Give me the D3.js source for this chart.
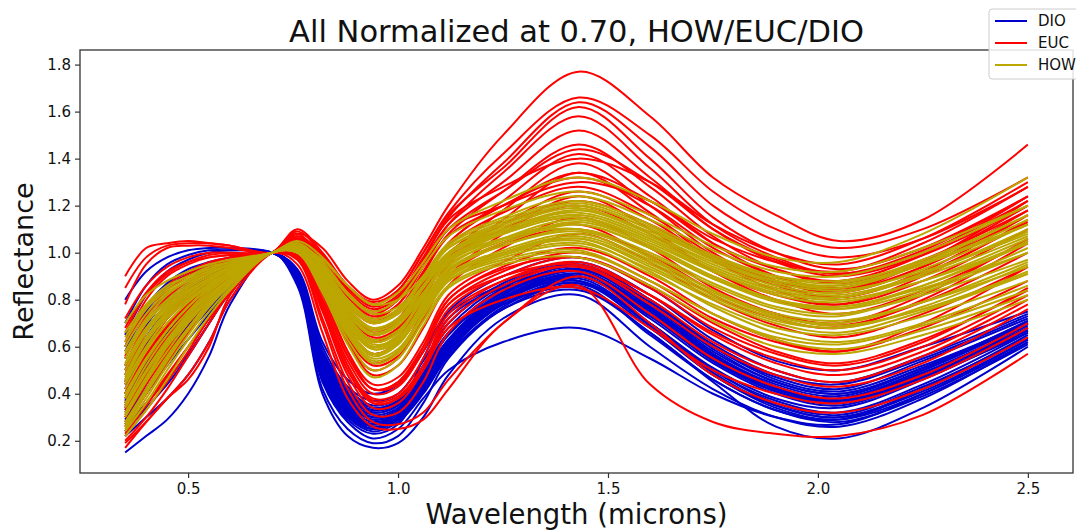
<!DOCTYPE html>
<html>
<head>
<meta charset="utf-8">
<script src="https://cdn.jsdelivr.net/npm/d3@7"></script>
<style>
  body { margin: 0; background: #fff; }
  text { font-family: "DejaVu Sans", sans-serif; fill: #111; }
</style>
</head>
<body>
<div id="chart"></div>
<script>
const species = ["DIO", "EUC", "HOW"];
const colors = ["#0000cd", "#ff0000", "#bca600"];

const wavelengths = [0.35, 0.40, 0.45, 0.50, 0.55, 0.60, 0.70, 0.76, 0.82, 0.88, 0.94, 1.00, 1.06, 1.12, 1.25, 1.43, 1.60, 1.75, 1.90, 2.05, 2.25, 2.50];

const dio = [
  [0.15,0.22,0.29,0.40,0.56,0.78,1.00,0.86,0.40,0.22,0.17,0.19,0.30,0.48,0.72,0.82,0.60,0.42,0.30,0.26,0.38,0.62],
  [0.22,0.30,0.38,0.48,0.62,0.80,1.00,0.87,0.42,0.25,0.19,0.22,0.36,0.55,0.76,0.86,0.65,0.46,0.33,0.29,0.42,0.65],
  [0.28,0.42,0.55,0.66,0.76,0.86,1.00,0.90,0.50,0.32,0.26,0.30,0.42,0.58,0.78,0.88,0.70,0.50,0.37,0.32,0.44,0.66],
  [0.35,0.52,0.65,0.75,0.83,0.90,1.00,0.91,0.53,0.36,0.29,0.33,0.45,0.60,0.80,0.90,0.72,0.53,0.40,0.35,0.47,0.68],
  [0.45,0.62,0.74,0.82,0.88,0.93,1.00,0.92,0.57,0.40,0.33,0.36,0.48,0.63,0.82,0.92,0.76,0.56,0.43,0.38,0.50,0.70],
  [0.55,0.72,0.82,0.88,0.92,0.95,1.00,0.92,0.58,0.42,0.35,0.38,0.50,0.66,0.84,0.94,0.79,0.60,0.47,0.42,0.54,0.72],
  [0.80,0.92,0.98,1.01,1.02,1.02,1.00,0.91,0.55,0.38,0.31,0.34,0.46,0.62,0.81,0.90,0.73,0.54,0.41,0.36,0.48,0.68],
  [0.65,0.82,0.92,0.97,1.00,1.01,1.00,0.92,0.60,0.43,0.37,0.40,0.54,0.70,0.87,0.96,0.82,0.63,0.50,0.45,0.56,0.74],
  [0.40,0.56,0.68,0.78,0.85,0.91,1.00,0.90,0.51,0.34,0.27,0.31,0.43,0.59,0.79,0.89,0.70,0.50,0.36,0.31,0.43,0.64],
  [0.30,0.46,0.60,0.71,0.80,0.88,1.00,0.89,0.47,0.30,0.24,0.28,0.40,0.56,0.77,0.87,0.68,0.48,0.34,0.29,0.40,0.62],
  [0.50,0.67,0.78,0.85,0.90,0.94,1.00,0.93,0.62,0.46,0.40,0.44,0.58,0.75,0.90,0.98,0.85,0.67,0.54,0.50,0.60,0.75],
  [0.26,0.36,0.46,0.57,0.70,0.83,1.00,0.88,0.45,0.28,0.21,0.25,0.38,0.50,0.62,0.68,0.55,0.40,0.30,0.27,0.40,0.63],
  [0.60,0.77,0.87,0.93,0.96,0.98,1.00,0.91,0.54,0.37,0.30,0.33,0.44,0.60,0.80,0.90,0.74,0.55,0.41,0.37,0.49,0.69],
  [0.33,0.50,0.63,0.73,0.82,0.89,1.00,0.90,0.52,0.35,0.28,0.32,0.46,0.63,0.83,0.93,0.78,0.58,0.45,0.40,0.51,0.71],
  [0.42,0.60,0.72,0.81,0.87,0.92,1.00,0.91,0.55,0.39,0.32,0.35,0.47,0.62,0.80,0.88,0.69,0.48,0.35,0.30,0.42,0.64],
  [0.24,0.34,0.44,0.56,0.70,0.84,1.00,0.88,0.46,0.29,0.23,0.27,0.44,0.62,0.78,0.85,0.66,0.45,0.26,0.21,0.34,0.60],
  [0.70,0.86,0.95,0.99,1.01,1.01,1.00,0.92,0.57,0.41,0.34,0.37,0.49,0.65,0.83,0.93,0.77,0.57,0.44,0.39,0.51,0.71],
  [0.48,0.64,0.76,0.84,0.89,0.93,1.00,0.92,0.56,0.40,0.33,0.36,0.52,0.68,0.86,0.95,0.80,0.61,0.48,0.44,0.55,0.73],
  [0.38,0.54,0.66,0.76,0.84,0.90,1.00,0.90,0.49,0.33,0.27,0.33,0.55,0.74,0.86,0.92,0.76,0.56,0.42,0.38,0.50,0.70],
  [0.36,0.53,0.66,0.76,0.84,0.90,1.00,0.89,0.48,0.31,0.25,0.30,0.50,0.72,0.85,0.88,0.70,0.51,0.38,0.34,0.46,0.67],
  [0.32,0.48,0.61,0.72,0.81,0.88,1.00,0.90,0.50,0.33,0.26,0.29,0.41,0.58,0.79,0.90,0.74,0.54,0.41,0.36,0.47,0.66],
  [0.44,0.61,0.73,0.82,0.88,0.93,1.00,0.91,0.54,0.37,0.30,0.33,0.45,0.61,0.82,0.93,0.77,0.57,0.43,0.38,0.49,0.68],
  [0.27,0.40,0.52,0.63,0.74,0.85,1.00,0.89,0.48,0.31,0.25,0.29,0.41,0.57,0.76,0.84,0.66,0.46,0.33,0.28,0.39,0.61],
  [0.52,0.69,0.80,0.87,0.91,0.94,1.00,0.92,0.58,0.41,0.34,0.37,0.50,0.66,0.85,0.95,0.80,0.60,0.46,0.41,0.52,0.70],
  [0.37,0.55,0.68,0.78,0.85,0.91,1.00,0.90,0.53,0.36,0.29,0.32,0.44,0.60,0.81,0.91,0.75,0.55,0.42,0.37,0.48,0.67],
  [0.29,0.44,0.58,0.69,0.79,0.87,1.00,0.89,0.50,0.32,0.25,0.29,0.42,0.58,0.78,0.87,0.70,0.49,0.35,0.30,0.41,0.63],
  [0.58,0.75,0.85,0.91,0.94,0.96,1.00,0.91,0.56,0.39,0.32,0.35,0.47,0.63,0.83,0.93,0.78,0.59,0.45,0.40,0.51,0.70],
  [0.34,0.51,0.64,0.75,0.83,0.90,1.00,0.90,0.52,0.34,0.27,0.30,0.42,0.59,0.80,0.91,0.76,0.56,0.42,0.37,0.48,0.67]
];

const euc = [
  [0.62,0.80,0.90,0.95,0.98,0.99,1.00,1.08,1.02,0.88,0.80,0.86,1.02,1.20,1.50,1.77,1.58,1.32,1.16,1.05,1.14,1.46],
  [0.90,1.02,1.04,1.05,1.04,1.03,1.00,1.06,0.98,0.85,0.77,0.82,0.98,1.15,1.38,1.64,1.45,1.20,1.05,0.98,1.06,1.28],
  [0.55,0.72,0.84,0.91,0.95,0.98,1.00,1.10,1.00,0.86,0.79,0.84,1.00,1.16,1.36,1.62,1.40,1.15,1.00,0.93,1.02,1.24],
  [0.78,0.95,1.02,1.03,1.03,1.02,1.00,1.07,0.97,0.83,0.75,0.80,0.96,1.12,1.34,1.58,1.36,1.12,0.98,0.91,1.00,1.22],
  [0.48,0.66,0.78,0.86,0.92,0.96,1.00,1.09,0.99,0.84,0.76,0.81,0.96,1.12,1.30,1.52,1.32,1.10,0.96,0.90,0.99,1.20],
  [0.40,0.58,0.72,0.82,0.89,0.94,1.00,1.08,0.96,0.80,0.71,0.76,0.92,1.08,1.26,1.46,1.28,1.07,0.93,0.87,0.97,1.18],
  [0.35,0.52,0.67,0.78,0.86,0.92,1.00,1.06,0.93,0.76,0.67,0.72,0.88,1.04,1.22,1.42,1.24,1.04,0.90,0.84,0.94,1.16],
  [0.30,0.45,0.60,0.72,0.82,0.90,1.00,1.05,0.90,0.72,0.62,0.67,0.83,0.99,1.18,1.38,1.20,1.00,0.87,0.81,0.91,1.13],
  [0.26,0.40,0.54,0.67,0.79,0.88,1.00,1.04,0.88,0.68,0.57,0.62,0.78,0.95,1.14,1.34,1.17,0.97,0.84,0.78,0.88,1.10],
  [0.50,0.67,0.78,0.85,0.90,0.94,1.00,1.02,0.86,0.64,0.52,0.56,0.72,0.90,1.08,1.24,1.10,0.92,0.80,0.74,0.84,1.05],
  [0.22,0.33,0.45,0.58,0.72,0.84,1.00,1.03,0.85,0.62,0.48,0.52,0.68,0.86,1.02,1.15,1.02,0.85,0.74,0.69,0.79,1.00],
  [0.42,0.57,0.69,0.78,0.85,0.91,1.00,1.01,0.82,0.58,0.44,0.47,0.62,0.82,0.96,1.08,0.96,0.80,0.69,0.64,0.74,0.94],
  [0.19,0.28,0.38,0.48,0.62,0.80,1.00,1.02,0.83,0.58,0.42,0.45,0.60,0.80,0.94,1.02,0.90,0.74,0.63,0.58,0.68,0.88],
  [0.17,0.28,0.38,0.46,0.60,0.82,1.00,1.00,0.78,0.52,0.38,0.40,0.55,0.76,0.90,0.98,0.86,0.70,0.58,0.53,0.63,0.84],
  [0.33,0.48,0.62,0.73,0.82,0.89,1.00,1.00,0.78,0.52,0.37,0.39,0.52,0.72,0.88,0.96,0.82,0.65,0.53,0.48,0.58,0.80],
  [0.28,0.42,0.56,0.68,0.79,0.88,1.00,0.98,0.75,0.48,0.34,0.36,0.50,0.70,0.86,0.94,0.78,0.60,0.48,0.43,0.53,0.76],
  [0.38,0.54,0.67,0.77,0.85,0.91,1.00,0.98,0.72,0.45,0.31,0.32,0.45,0.66,0.84,0.92,0.74,0.55,0.43,0.38,0.48,0.70],
  [0.24,0.36,0.48,0.60,0.72,0.84,1.00,0.95,0.66,0.38,0.26,0.25,0.29,0.42,0.70,0.86,0.44,0.28,0.23,0.22,0.31,0.57],
  [0.60,0.76,0.86,0.92,0.96,0.98,1.00,1.04,0.92,0.74,0.64,0.68,0.84,1.00,1.12,1.22,1.12,0.98,0.88,0.84,0.96,1.22],
  [0.72,0.86,0.94,0.98,1.00,1.00,1.00,1.05,0.95,0.80,0.72,0.78,0.94,1.10,1.20,1.30,1.22,1.06,0.96,0.92,1.04,1.28],
  [0.45,0.62,0.74,0.82,0.88,0.93,1.00,1.03,0.89,0.70,0.60,0.64,0.80,0.97,1.10,1.20,1.08,0.92,0.82,0.78,0.90,1.14],
  [0.34,0.50,0.64,0.75,0.84,0.91,1.00,1.01,0.84,0.62,0.50,0.55,0.72,0.90,1.04,1.12,0.98,0.82,0.72,0.68,0.80,1.04],
  [0.20,0.30,0.42,0.56,0.70,0.83,1.00,0.99,0.80,0.56,0.42,0.44,0.58,0.78,0.92,1.00,0.88,0.72,0.62,0.58,0.70,0.94],
  [0.52,0.70,0.81,0.88,0.93,0.96,1.00,1.00,0.76,0.50,0.36,0.38,0.50,0.68,0.80,0.85,0.68,0.50,0.40,0.36,0.46,0.68],
  [0.66,0.82,0.91,0.96,0.99,1.00,1.00,1.06,0.96,0.82,0.74,0.80,0.97,1.14,1.28,1.40,1.30,1.12,1.00,0.95,1.06,1.30],
  [0.30,0.44,0.57,0.68,0.78,0.87,1.00,0.97,0.70,0.42,0.28,0.27,0.32,0.46,0.70,0.90,0.70,0.48,0.36,0.32,0.42,0.64],
  [0.85,0.98,1.03,1.04,1.04,1.03,1.00,1.07,0.99,0.86,0.78,0.84,1.00,1.17,1.42,1.66,1.50,1.26,1.10,1.02,1.10,1.32],
  [0.40,0.56,0.68,0.78,0.86,0.92,1.00,1.04,0.91,0.73,0.63,0.68,0.86,1.04,1.20,1.32,1.20,1.02,0.90,0.85,0.96,1.20],
  [0.46,0.63,0.75,0.83,0.89,0.94,1.00,1.05,0.93,0.76,0.66,0.71,0.87,1.03,1.17,1.28,1.16,0.99,0.88,0.83,0.94,1.18],
  [0.36,0.52,0.65,0.76,0.84,0.91,1.00,1.02,0.86,0.65,0.53,0.58,0.75,0.92,1.04,1.10,0.99,0.84,0.74,0.70,0.82,1.06],
  [0.27,0.40,0.53,0.66,0.77,0.87,1.00,1.00,0.80,0.56,0.42,0.45,0.60,0.80,0.93,0.98,0.85,0.68,0.57,0.52,0.62,0.85],
  [0.56,0.73,0.84,0.90,0.94,0.97,1.00,1.06,0.96,0.81,0.73,0.78,0.94,1.10,1.26,1.44,1.30,1.10,0.97,0.91,1.01,1.24],
  [0.31,0.46,0.59,0.70,0.80,0.88,1.00,0.99,0.76,0.50,0.36,0.38,0.52,0.74,0.88,0.94,0.80,0.62,0.50,0.45,0.56,0.78],
  [0.68,0.83,0.92,0.96,0.98,0.99,1.00,1.05,0.94,0.78,0.70,0.75,0.91,1.07,1.20,1.34,1.22,1.04,0.93,0.88,0.99,1.24],
  [0.23,0.35,0.47,0.60,0.72,0.84,1.00,0.98,0.78,0.54,0.40,0.43,0.58,0.78,0.90,0.95,0.82,0.66,0.55,0.50,0.60,0.82],
  [0.44,0.60,0.72,0.80,0.87,0.92,1.00,1.03,0.88,0.68,0.57,0.62,0.80,0.98,1.12,1.26,1.14,0.97,0.86,0.81,0.92,1.16]
];

const how = [
  [0.70,0.82,0.88,0.92,0.95,0.97,1.00,1.03,0.97,0.86,0.78,0.80,0.90,1.02,1.12,1.20,1.10,0.98,0.90,0.88,0.96,1.12],
  [0.62,0.76,0.84,0.89,0.93,0.96,1.00,1.04,0.95,0.82,0.74,0.77,0.88,1.00,1.10,1.18,1.08,0.96,0.87,0.84,0.92,1.08],
  [0.55,0.70,0.79,0.86,0.91,0.95,1.00,1.03,0.93,0.78,0.70,0.74,0.86,0.98,1.08,1.15,1.04,0.92,0.83,0.80,0.88,1.04],
  [0.50,0.66,0.76,0.84,0.89,0.94,1.00,1.02,0.91,0.75,0.66,0.70,0.83,0.96,1.06,1.12,1.02,0.89,0.80,0.77,0.85,1.00],
  [0.45,0.60,0.72,0.80,0.87,0.92,1.00,1.02,0.90,0.73,0.63,0.67,0.80,0.93,1.03,1.10,1.00,0.87,0.77,0.74,0.82,0.97],
  [0.40,0.55,0.67,0.77,0.85,0.91,1.00,1.01,0.88,0.70,0.60,0.64,0.78,0.91,1.01,1.08,0.97,0.84,0.74,0.71,0.79,0.94],
  [0.35,0.50,0.63,0.74,0.83,0.90,1.00,1.01,0.87,0.68,0.57,0.61,0.76,0.90,1.00,1.06,0.94,0.81,0.71,0.68,0.76,0.91],
  [0.30,0.45,0.58,0.70,0.80,0.88,1.00,1.00,0.85,0.65,0.54,0.58,0.73,0.88,0.98,1.03,0.91,0.78,0.68,0.65,0.73,0.88],
  [0.25,0.38,0.52,0.65,0.77,0.86,1.00,1.00,0.84,0.63,0.50,0.55,0.71,0.86,0.96,1.00,0.88,0.74,0.64,0.61,0.69,0.84],
  [0.22,0.33,0.46,0.60,0.73,0.84,1.00,1.00,0.83,0.61,0.47,0.52,0.69,0.85,0.95,0.98,0.86,0.71,0.60,0.57,0.65,0.80],
  [0.48,0.64,0.75,0.83,0.89,0.94,1.00,1.04,0.96,0.83,0.75,0.80,0.94,1.07,1.18,1.26,1.16,1.03,0.94,0.92,1.02,1.20],
  [0.58,0.72,0.82,0.88,0.92,0.95,1.00,1.05,0.98,0.86,0.78,0.83,0.96,1.10,1.22,1.32,1.22,1.08,0.98,0.96,1.08,1.32],
  [0.38,0.54,0.67,0.77,0.85,0.91,1.00,1.03,0.93,0.78,0.70,0.75,0.89,1.03,1.14,1.22,1.12,0.99,0.90,0.87,0.97,1.16],
  [0.32,0.47,0.61,0.72,0.81,0.89,1.00,1.02,0.89,0.72,0.62,0.66,0.82,0.97,1.08,1.15,1.05,0.92,0.82,0.79,0.88,1.06],
  [0.66,0.78,0.86,0.90,0.94,0.96,1.00,1.02,0.92,0.77,0.68,0.72,0.85,0.97,1.06,1.10,0.98,0.84,0.73,0.69,0.76,0.92],
  [0.28,0.42,0.56,0.68,0.79,0.87,1.00,1.01,0.86,0.67,0.56,0.61,0.77,0.92,1.03,1.09,0.99,0.86,0.76,0.73,0.83,1.00],
  [0.52,0.67,0.77,0.84,0.89,0.93,1.00,1.02,0.90,0.72,0.61,0.64,0.77,0.90,1.00,1.05,0.92,0.77,0.66,0.62,0.70,0.86],
  [0.42,0.58,0.70,0.79,0.86,0.92,1.00,1.03,0.92,0.76,0.67,0.71,0.85,0.99,1.10,1.17,1.07,0.94,0.85,0.82,0.91,1.09],
  [0.36,0.52,0.65,0.75,0.84,0.90,1.00,1.01,0.88,0.70,0.59,0.62,0.75,0.88,0.97,1.01,0.88,0.74,0.63,0.59,0.67,0.82],
  [0.60,0.74,0.83,0.88,0.92,0.95,1.00,1.03,0.94,0.80,0.72,0.76,0.90,1.04,1.15,1.24,1.14,1.01,0.92,0.90,1.00,1.20],
  [0.46,0.62,0.73,0.81,0.88,0.93,1.00,1.02,0.91,0.74,0.65,0.69,0.82,0.95,1.05,1.13,1.03,0.90,0.80,0.76,0.84,1.02],
  [0.26,0.40,0.54,0.67,0.78,0.87,1.00,1.01,0.87,0.68,0.57,0.62,0.78,0.93,1.04,1.12,1.02,0.89,0.79,0.76,0.86,1.05],
  [0.44,0.59,0.70,0.79,0.86,0.92,1.00,1.02,0.90,0.74,0.65,0.70,0.85,1.00,1.12,1.20,1.10,0.97,0.88,0.85,0.95,1.14],
  [0.34,0.49,0.62,0.73,0.82,0.89,1.00,1.01,0.87,0.69,0.59,0.63,0.79,0.94,1.06,1.14,1.03,0.90,0.80,0.77,0.86,1.04],
  [0.57,0.71,0.80,0.87,0.91,0.95,1.00,1.03,0.93,0.79,0.71,0.75,0.88,1.02,1.13,1.21,1.11,0.98,0.89,0.86,0.95,1.12],
  [0.24,0.36,0.50,0.63,0.75,0.85,1.00,1.00,0.85,0.65,0.53,0.57,0.73,0.88,0.99,1.06,0.95,0.82,0.72,0.68,0.77,0.95],
  [0.64,0.77,0.85,0.90,0.93,0.96,1.00,1.03,0.94,0.80,0.71,0.74,0.86,0.99,1.09,1.16,1.06,0.93,0.84,0.81,0.90,1.07],
  [0.39,0.55,0.67,0.77,0.85,0.91,1.00,1.02,0.89,0.72,0.62,0.66,0.81,0.96,1.08,1.18,1.09,0.97,0.88,0.86,0.96,1.16],
  [0.31,0.46,0.60,0.71,0.81,0.88,1.00,1.01,0.86,0.66,0.55,0.59,0.74,0.89,1.00,1.07,0.96,0.83,0.73,0.70,0.79,0.96],
  [0.53,0.68,0.78,0.85,0.90,0.94,1.00,1.02,0.91,0.76,0.68,0.72,0.86,1.00,1.11,1.19,1.08,0.95,0.86,0.83,0.93,1.12],
  [0.47,0.63,0.74,0.82,0.88,0.93,1.00,1.02,0.89,0.71,0.60,0.63,0.76,0.90,0.99,1.04,0.93,0.80,0.70,0.66,0.75,0.91],
  [0.27,0.41,0.55,0.67,0.78,0.87,1.00,1.01,0.88,0.70,0.60,0.65,0.81,0.97,1.09,1.16,1.06,0.93,0.84,0.81,0.91,1.10]
];

const xTicks = [0.5, 1.0, 1.5, 2.0, 2.5];
const yTicks = [0.2, 0.4, 0.6, 0.8, 1.0, 1.2, 1.4, 1.6, 1.8];

const width = 1076, height = 530;
const plotLeft = 80, plotRight = 1073, plotTop = 50, plotBottom = 473;

const svg = d3.select("#chart").append("svg")
  .attr("width", width)
  .attr("height", height)
  .style("background", "#fff");

const x = d3.scaleLinear().domain([0.2425, 2.6075]).range([plotLeft, plotRight]);
const y = d3.scaleLinear().domain([0.063, 1.862]).range([plotBottom, plotTop]);

const line = d3.line()
  .x((d, i) => x(wavelengths[i]))
  .y(d => y(d))
  .curve(d3.curveCatmullRom.alpha(0.5));

// drawn in legend order: DIO, then EUC, then HOW on top
const series = [];
dio.forEach(v => series.push({ v, c: colors[0] }));
euc.forEach(v => series.push({ v, c: colors[1] }));
how.forEach(v => series.push({ v, c: colors[2] }));

svg.append("g")
  .selectAll("path")
  .data(series)
  .join("path")
  .attr("d", d => line(d.v))
  .attr("fill", "none")
  .attr("stroke", d => d.c)
  .attr("stroke-width", 2);

// axes
const xAxis = svg.append("g")
  .attr("transform", `translate(0,${plotBottom})`)
  .call(d3.axisBottom(x).tickValues(xTicks).tickFormat(d3.format(".1f")).tickSize(5).tickPadding(5));
const yAxis = svg.append("g")
  .attr("transform", `translate(${plotLeft},0)`)
  .call(d3.axisLeft(y).tickValues(yTicks).tickFormat(d3.format(".1f")).tickSize(5).tickPadding(4));

[xAxis, yAxis].forEach(g => {
  g.select(".domain").remove();
  g.selectAll("line").attr("stroke", "#333").attr("stroke-width", 1.2);
  g.selectAll("text").style("font-size", "15px").style("font-family", "DejaVu Sans, sans-serif").attr("fill", "#222");
});

svg.append("rect")
  .attr("x", plotLeft).attr("y", plotTop)
  .attr("width", plotRight - plotLeft).attr("height", plotBottom - plotTop)
  .attr("fill", "none")
  .attr("stroke", "#333")
  .attr("stroke-width", 1.3);

svg.append("text")
  .attr("x", (plotLeft + plotRight) / 2)
  .attr("y", 42)
  .attr("text-anchor", "middle")
  .style("font-size", "30.5px")
  .text("All Normalized at 0.70, HOW/EUC/DIO");

svg.append("text")
  .attr("x", (plotLeft + plotRight) / 2)
  .attr("y", 524)
  .attr("text-anchor", "middle")
  .style("font-size", "27.5px")
  .text("Wavelength (microns)");

svg.append("text")
  .attr("transform", `translate(33,${(plotTop + plotBottom) / 2}) rotate(-90)`)
  .attr("text-anchor", "middle")
  .style("font-size", "27px")
  .text("Reflectance");

// legend
const legend = svg.append("g");
legend.append("rect")
  .attr("x", 989).attr("y", 9)
  .attr("width", 110).attr("height", 70)
  .attr("rx", 3)
  .attr("fill", "#fff").attr("fill-opacity", 0.85)
  .attr("stroke", "#ccc");

const items = legend.selectAll("g.item")
  .data(species)
  .join("g")
  .attr("class", "item")
  .attr("transform", (d, i) => `translate(0,${21 + i * 22})`);
items.append("line")
  .attr("x1", 995).attr("x2", 1027)
  .attr("stroke", (d, i) => colors[i])
  .attr("stroke-width", 2);
items.append("text")
  .attr("x", 1038).attr("y", 5)
  .style("font-size", "15px")
  .text(d => d);
</script>
</body>
</html>
